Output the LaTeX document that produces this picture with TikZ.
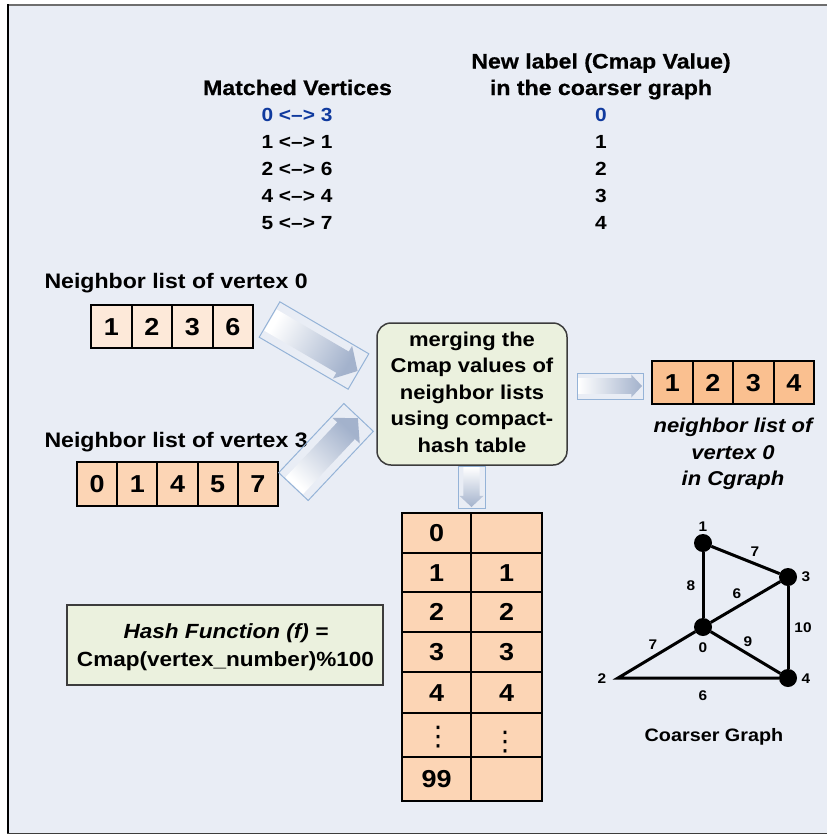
\documentclass[tikz,border=0pt]{standalone}
\usepackage{fontspec}
\setmainfont{Liberation Sans}[FakeStretch=1.1]
\newfontfamily\heavyfont{Liberation Sans}[FakeStretch=1.1,FakeBold=0.6]
\newfontfamily\symfont{DejaVu Sans}

\definecolor{bg}{RGB}{233,237,245}
\definecolor{peachA}{RGB}{253,233,217}
\definecolor{peachB}{RGB}{252,213,181}
\definecolor{peachC}{RGB}{250,192,144}
\definecolor{olivebox}{RGB}{235,241,222}
\definecolor{arrowend}{RGB}{163,178,204}
\definecolor{arrowedge}{RGB}{149,179,215}
\definecolor{matchblue}{RGB}{16,58,158}
\definecolor{framegray}{RGB}{110,110,110}
\definecolor{boxedge}{RGB}{60,60,60}

% block arrow: centre, angle, length, height
\newcommand{\blockarrow}[4]{%
  \begin{scope}[shift={#1}, rotate=#2]
    \pgfmathsetmacro{\hl}{#3/2}%
    \pgfmathsetmacro{\hh}{#4/2}%
    \pgfmathsetmacro{\sh}{0.3*#4}%
    \pgfmathsetmacro{\hb}{#3/2-0.45*#4}%
    \pgfmathsetmacro{\sa}{90+#2}%
    \shade[left color=white, right color=arrowend, shading angle=\sa]
      (-\hl+1,-\sh) -- (\hb,-\sh) -- (\hb,-\hh+1.5) -- (\hl-1,0)
      -- (\hb,\hh-1.5) -- (\hb,\sh) -- (-\hl+1,\sh) -- cycle;
    \draw[arrowedge, line width=1] (-\hl,-\hh) rectangle (\hl,\hh);
  \end{scope}}

\begin{document}
\begin{tikzpicture}[x=1pt, y=-1pt,
  every node/.style={inner sep=0pt, outer sep=0pt},
  hdr/.style={anchor=base, font={\fontsize{21}{21}\selectfont\heavyfont\bfseries}},
  row/.style={anchor=base, font={\fontsize{19}{19}\selectfont\bfseries}},
  lbl/.style={anchor=base west, font={\fontsize{21}{21}\selectfont\bfseries}},
  mtxt/.style={anchor=base, font={\fontsize{20}{20}\selectfont\bfseries}},
  itxt/.style={anchor=base, font={\fontsize{20}{20}\selectfont\bfseries\itshape}},
  cellbase/.style={draw, line width=2, minimum width=40.5, minimum height=43,
    font={\fontsize{24.5}{24.5}\selectfont\bfseries}, text height=17.5, text depth=0},
  cellA/.style={cellbase, fill=peachA},
  cellB/.style={cellbase, fill=peachB, minimum width=40.2, minimum height=44},
  cellC/.style={cellbase, fill=peachC},
  hcell/.style={cellbase, line width=2.5, fill=peachB},
  hdots/.style={font={\symfont\fontsize{27}{27}\selectfont}},
  mergebox/.style={draw=boxedge, line width=1.5, fill=olivebox, rounded corners=14,
    minimum width=190, minimum height=142},
  hashbox/.style={draw=boxedge, line width=1.5, fill=olivebox,
    minimum width=316, minimum height=80},
  gdot/.style={circle, fill=black, minimum size=18},
  glab/.style={font={\fontsize{14}{14}\selectfont\bfseries}, text height=10, text depth=0},
  gedge/.style={line width=3, black}
]
\useasboundingbox (0,0) rectangle (827,835);

% page background and frame
\fill[white] (0,0) rectangle (827,835);
\fill[bg] (7,4) rectangle (827,833);
\draw[framegray, line width=1.8] (7,4.9) -- (827,4.9);
\draw[black, line width=1.5] (7.9,4) -- (7.9,833.5);
\draw[boxedge, line width=1.5] (7,833.6) -- (827,833.6);

% matching table
\node[hdr] (hmv) at (297.5,95) {Matched Vertices};
\node[hdr] (hnl1) at (601,68.5) {New label (Cmap Value)};
\node[hdr] (hnl2) at (601,95) {in the coarser graph};

\node[row, text=matchblue] (m0) at (297,121.5) {0 <–> 3};
\node[row] (m1) at (297,148.5) {1 <–> 1};
\node[row] (m2) at (297,175.5) {2 <–> 6};
\node[row] (m3) at (297,202.5) {4 <–> 4};
\node[row] (m4) at (297,229.5) {5 <–> 7};
\node[row, text=matchblue] (c0) at (601,121.5) {0};
\node[row] (c1) at (601,148.5) {1};
\node[row] (c2) at (601,175.5) {2};
\node[row] (c3) at (601,202.5) {3};
\node[row] (c4) at (601,229.5) {4};

% neighbour lists
\node[lbl] (l0) at (44.5,288.5) {Neighbor list of vertex 0};
\node[cellA] (p1) at (111.25,326.5) {1};
\node[cellA] (p2) at (151.75,326.5) {2};
\node[cellA] (p3) at (192.25,326.5) {3};
\node[cellA] (p4) at (232.75,326.5) {6};

\node[lbl] (l3) at (44.5,447) {Neighbor list of vertex 3};
\node[cellB] (q1) at (97.1,484) {0};
\node[cellB] (q2) at (137.3,484) {1};
\node[cellB] (q3) at (177.5,484) {4};
\node[cellB] (q4) at (217.7,484) {5};
\node[cellB] (q5) at (257.9,484) {7};

% merging step
\node[mergebox] (merge) at (472,394) {};
\node[mtxt] (mg1) at (472,346) {merging the};
\node[mtxt] (mg2) at (472,372.5) {Cmap values of};
\node[mtxt] (mg3) at (472,399) {neighbor lists};
\node[mtxt] (mg4) at (472,425.5) {using compact-};
\node[mtxt] (mg5) at (472,452) {hash table};

% block arrows
\blockarrow{(314,345.5)}{-30.3}{103}{41}
\blockarrow{(326,452)}{46.7}{95}{40.5}
\blockarrow{(610,386)}{0}{66}{26}
\blockarrow{(471.5,487)}{-90}{42}{27}

% merged list
\node[cellC] (r1) at (672.25,382.5) {1};
\node[cellC] (r2) at (712.75,382.5) {2};
\node[cellC] (r3) at (753.25,382.5) {3};
\node[cellC] (r4) at (793.75,382.5) {4};
\node[itxt] (o1) at (733,432.5) {neighbor list of};
\node[itxt] (o2) at (733,459) {vertex 0};
\node[itxt] (o3) at (733,485.5) {in Cgraph};

% hash table
\node[hcell, minimum width=69, minimum height=40] (h0a) at (436.5,533) {0};
\node[hcell, minimum width=71, minimum height=40] (h0b) at (506.5,533) {};
\node[hcell, minimum width=69, minimum height=39] (h1a) at (436.5,572.5) {1};
\node[hcell, minimum width=71, minimum height=39] (h1b) at (506.5,572.5) {1};
\node[hcell, minimum width=69, minimum height=40] (h2a) at (436.5,612) {2};
\node[hcell, minimum width=71, minimum height=40] (h2b) at (506.5,612) {2};
\node[hcell, minimum width=69, minimum height=40] (h3a) at (436.5,652) {3};
\node[hcell, minimum width=71, minimum height=40] (h3b) at (506.5,652) {3};
\node[hcell, minimum width=69, minimum height=41] (h4a) at (436.5,692.5) {4};
\node[hcell, minimum width=71, minimum height=41] (h4b) at (506.5,692.5) {4};
\node[hcell, minimum width=69, minimum height=44] (h5a) at (436.5,735) {};
\node[hcell, minimum width=71, minimum height=44] (h5b) at (506.5,735) {};
\node[hcell, minimum width=69, minimum height=44] (h6a) at (436.5,779) {99};
\node[hcell, minimum width=71, minimum height=44] (h6b) at (506.5,779) {};
\node[hdots] (d5a) at (438,737) {⋮};
\node[hdots] (d5b) at (505,742) {⋮};

% hash function
\node[hashbox] (hf) at (225,645) {};
\node[itxt, font={\fontsize{20.5}{20.5}\selectfont\bfseries\itshape}] (hf1) at (226,638.3) {Hash Function (f) =};
\node[mtxt, font={\fontsize{20.5}{20.5}\selectfont\bfseries}] (hf2) at (225.5,666) {Cmap(vertex\_number)\%100};

% coarser graph
\node[gdot] (g1) at (703,543) {};
\node[gdot] (g3) at (788,577) {};
\node[gdot] (g0) at (703,627) {};
\node[gdot] (g4) at (788,678) {};
\coordinate (g2) at (618,678);
\draw[gedge] (g1) -- (g0);
\draw[gedge] (g1) -- (g3);
\draw[gedge] (g0) -- (g3);
\draw[gedge] (g3) -- (g4);
\draw[gedge] (g0) -- (g4);
\draw[gedge, miter limit=10] (g0) -- (g2) -- (g4);

\node[glab] (t1) at (703,526) {1};
\node[glab] (t3) at (806,576) {3};
\node[glab] (t0) at (703,647) {0};
\node[glab] (t4) at (806,678) {4};
\node[glab] (t2) at (602,678) {2};
\node[glab] (w13) at (755,551) {7};
\node[glab] (w10) at (691,585) {8};
\node[glab] (w03) at (737,593) {6};
\node[glab] (w34) at (803,627) {10};
\node[glab] (w02) at (653,644) {7};
\node[glab] (w04) at (748,641) {9};
\node[glab] (w24) at (703,695) {6};
\node[anchor=base, font={\fontsize{18}{18}\selectfont\bfseries}] (cg) at (714,741) {Coarser Graph};
\end{tikzpicture}
\end{document}
